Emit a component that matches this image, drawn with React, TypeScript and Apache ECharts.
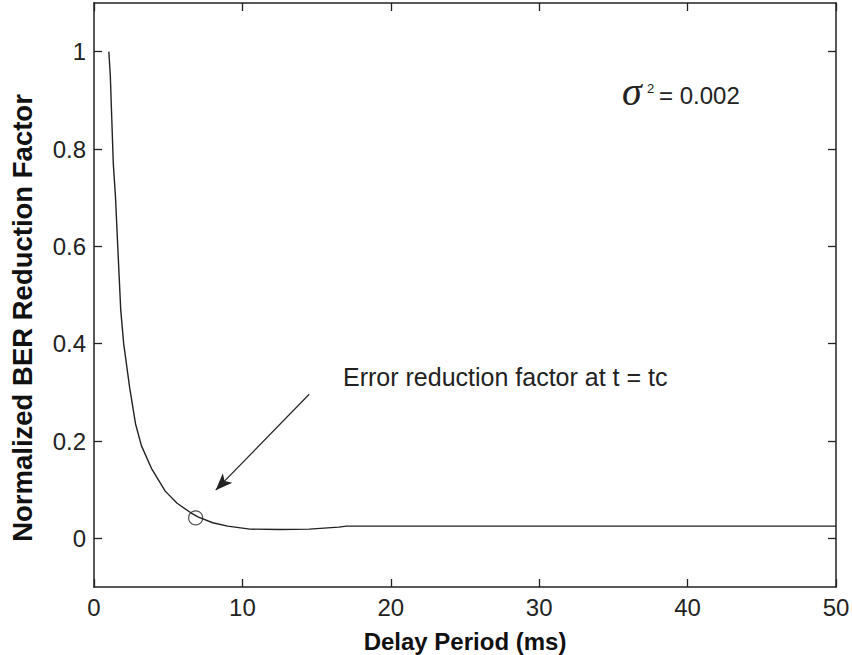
import React, { useEffect, useRef } from "react";
import * as echarts from "echarts";

const delayMs = [1, 1.1, 1.2, 1.3, 1.45, 1.6, 1.8, 2, 2.4, 2.8, 3.2, 3.9, 4.8, 5.6, 6.5, 7, 8, 9, 10, 10.5, 12.5, 14.5, 15.5, 16.5, 17, 20, 30, 40, 50];
const berFactor = [1.0, 0.95, 0.86, 0.77, 0.7, 0.6, 0.47, 0.4, 0.31, 0.235, 0.19, 0.142, 0.097, 0.072, 0.053, 0.044, 0.032, 0.025, 0.021, 0.019, 0.018, 0.019, 0.021, 0.023, 0.025, 0.025, 0.025, 0.025, 0.025];
const markerPoint = [6.85, 0.042];
const arrowFrom = [14.5, 0.296];
const arrowTo = [8.2, 0.099];
const xTicks = [0, 10, 20, 30, 40, 50];
const yTicks = [0, 0.2, 0.4, 0.6, 0.8, 1];
const annotationText = "Error reduction factor at t = tc";
const sigmaValue = "= 0.002";
const xTitle = "Delay Period (ms)";
const yTitle = "Normalized BER Reduction Factor";

const FONT = "'Liberation Sans', Arial, Helvetica, sans-serif";
const INK = "#222";

export default function App() {
  const ref = useRef<HTMLDivElement>(null);
  useEffect(() => {
    document.body.style.margin = "0";
    const chart = echarts.init(ref.current!, null, { renderer: "svg" });
    const axisLine = { show: true, onZero: false, lineStyle: { color: INK, width: 1.5 } };
    const tick = { show: true, inside: true, length: 8, lineStyle: { color: INK, width: 1.3 } };
    const curve = delayMs.map((x, i) => [x, berFactor[i]]);
    chart.setOption({
      animation: false,
      backgroundColor: "#fff",
      grid: { left: 94, right: 16, top: 3, bottom: 68, containLabel: false, outerBoundsMode: "none" },
      xAxis: [
        {
          type: "value",
          min: xTicks[0],
          max: xTicks[xTicks.length - 1],
          interval: 10,
          position: "bottom",
          axisLine,
          axisTick: tick,
          splitLine: { show: false },
          axisLabel: { color: INK, fontFamily: FONT, fontSize: 24, margin: 8 },
          name: xTitle,
          nameLocation: "middle",
          nameGap: 42,
          nameTextStyle: { color: "#111", fontFamily: FONT, fontSize: 24, fontWeight: "bold" },
        },
        {
          type: "value",
          min: xTicks[0],
          max: xTicks[xTicks.length - 1],
          interval: 10,
          position: "top",
          axisLine,
          axisTick: tick,
          splitLine: { show: false },
          axisLabel: { show: false },
        },
      ],
      yAxis: [
        {
          type: "value",
          min: -0.1,
          max: 1.1,
          position: "left",
          axisLine,
          axisTick: { ...tick, customValues: yTicks },
          splitLine: { show: false },
          axisLabel: {
            color: INK,
            fontFamily: FONT,
            fontSize: 24,
            margin: 8,
            customValues: yTicks,
            formatter: (v: number) => String(Math.round(v * 10) / 10),
          },
        },
        {
          type: "value",
          min: -0.1,
          max: 1.1,
          position: "right",
          axisLine,
          axisTick: { ...tick, customValues: yTicks },
          splitLine: { show: false },
          axisLabel: { show: false },
        },
      ],
      series: [
        {
          type: "line",
          data: curve,
          showSymbol: false,
          symbol: "none",
          lineStyle: { color: INK, width: 1.4 },
          markLine: {
            silent: true,
            symbol: ["none", "arrow"],
            symbolSize: [10, 17],
            label: { show: false },
            lineStyle: { color: INK, width: 1.2, type: "solid" },
            data: [[{ coord: arrowFrom }, { coord: arrowTo }]],
          },
        },
        {
          type: "scatter",
          data: [markerPoint],
          symbol: "circle",
          symbolSize: 14,
          itemStyle: { color: "rgba(0,0,0,0)", borderColor: INK, borderWidth: 1.2 },
        },
      ],
      graphic: [
        {
          type: "text",
          x: 22,
          y: 318,
          rotation: Math.PI / 2,
          style: { text: yTitle, font: `bold 27.5px ${FONT}`, fill: "#111", textAlign: "center", textVerticalAlign: "middle" },
        },
        {
          type: "text",
          x: 343,
          y: 377,
          style: { text: annotationText, font: `25px ${FONT}`, fill: INK, textVerticalAlign: "middle" },
        },
        {
          type: "text",
          x: 622,
          y: 91,
          style: { text: "σ", font: `italic 40px 'Liberation Serif', 'Times New Roman', serif`, fill: INK, textVerticalAlign: "middle" },
        },
        {
          type: "text",
          x: 647,
          y: 88,
          style: { text: "2", font: `13px ${FONT}`, fill: INK, textVerticalAlign: "middle" },
        },
        {
          type: "text",
          x: 659,
          y: 95,
          style: { text: sigmaValue, font: `24px ${FONT}`, fill: INK, textVerticalAlign: "middle" },
        },
      ],
    });
    return () => chart.dispose();
  }, []);
  return <div ref={ref} style={{ position: "absolute", left: 0, top: 0, width: 852, height: 655 }} />;
}
